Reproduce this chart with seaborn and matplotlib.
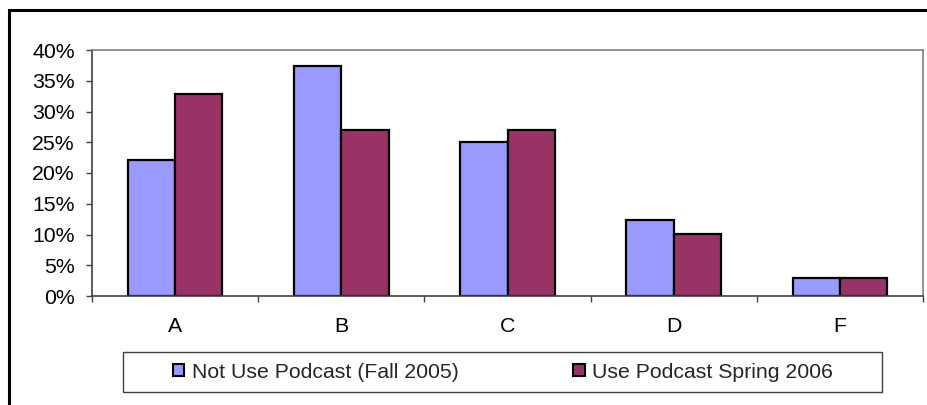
import matplotlib
matplotlib.use("Agg")
import matplotlib.pyplot as plt
import matplotlib.patches as mpatches
from matplotlib.ticker import PercentFormatter, FixedLocator
import seaborn as sns
import pandas as pd

# Grade distribution by course section
grades = ["A", "B", "C", "D", "F"]
not_use_fall_2005 = [0.221, 0.374, 0.250, 0.124, 0.029]
use_spring_2006 = [0.328, 0.270, 0.270, 0.101, 0.029]
series_names = ["Not Use Podcast (Fall 2005)", "Use Podcast Spring 2006"]
y_ticks = [0.0, 0.05, 0.10, 0.15, 0.20, 0.25, 0.30, 0.35, 0.40]

df = pd.DataFrame({
    "grade": grades * 2,
    "share": not_use_fall_2005 + use_spring_2006,
    "group": [series_names[0]] * len(grades) + [series_names[1]] * len(grades),
})

sns.set_theme(style="white")
plt.rcParams["font.family"] = ["Liberation Sans", "DejaVu Sans"]
FS = 15.3

W, H = 927, 405
fig = plt.figure(figsize=(W / 100, H / 100), dpi=100)
ax = fig.add_axes([92 / W, (H - 296) / H, (923 - 92) / W, 246 / H])

palette = {series_names[0]: "#9999FF", series_names[1]: "#993366"}
sns.barplot(data=df, x="grade", y="share", hue="group", order=grades,
            hue_order=series_names, palette=palette, width=0.57, gap=0,
            edgecolor="black", linewidth=1.6, saturation=1, ax=ax, legend=False)

ax.set_xlim(-0.5, len(grades) - 0.5)
ax.set_ylim(0, 0.40)
ax.set_xlabel("")
ax.set_ylabel("")

ax.yaxis.set_major_locator(FixedLocator(y_ticks))
ax.yaxis.set_major_formatter(PercentFormatter(1.0, decimals=0))
ax.tick_params(axis="y", which="major", left=True, length=4.5, width=1,
               color="#404040", pad=8, labelsize=FS, labelcolor="black")

# category labels centered, boundary tick marks between categories
ax.set_xticks(range(len(grades)))
ax.set_xticklabels(grades)
ax.set_xticks([i - 0.5 for i in range(len(grades) + 1)], minor=True)
ax.tick_params(axis="x", which="major", bottom=True, length=0, pad=15,
               labelsize=FS, labelcolor="black")
ax.tick_params(axis="x", which="minor", bottom=True, length=4.5, width=1,
               color="#404040")

for side in ["top", "right"]:
    ax.spines[side].set_color("#808080")
    ax.spines[side].set_linewidth(1.2)
for side in ["left", "bottom"]:
    ax.spines[side].set_color("#404040")
    ax.spines[side].set_linewidth(1.2)

# legend below the plot area, inside its own box
fig.add_artist(mpatches.Rectangle((123 / W, (H - 392) / H), (882 - 123) / W, 40 / H,
                                  transform=fig.transFigure, fill=False,
                                  edgecolor="#404040", linewidth=1.0))
handles = [mpatches.Patch(facecolor=palette[n], edgecolor="black", linewidth=1.5)
           for n in series_names]
fig.legend(handles, series_names, loc="center", ncol=2,
           bbox_to_anchor=(503 / W, (H - 372) / H),
           fontsize=FS, frameon=False, handlelength=0.55, handleheight=0.55,
           handletextpad=0.35, columnspacing=5.4, borderaxespad=0, borderpad=0)

# outer chart frame
fig.add_artist(mpatches.Rectangle((9 / W, -0.1), 1.2, (H - 10) / H + 0.1,
                                  transform=fig.transFigure, fill=False,
                                  edgecolor="black", linewidth=2.2))

fig.savefig("out.png", dpi=100)
